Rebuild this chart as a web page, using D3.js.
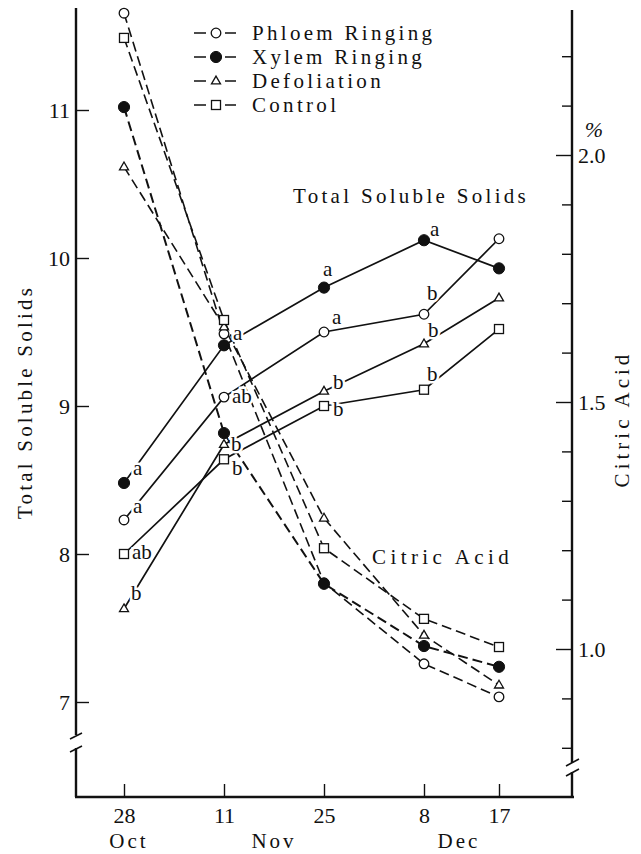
<!DOCTYPE html>
<html>
<head>
<meta charset="utf-8">
<script src="https://cdn.jsdelivr.net/npm/d3@7/dist/d3.min.js"></script>
<style>
  html, body { margin: 0; padding: 0; background: #fff; }
  svg { display: block; font-family: "Liberation Serif", "DejaVu Serif", serif; }
  svg text { font-family: "Liberation Serif", "DejaVu Serif", serif !important; fill: #111; }
</style>
</head>
<body>
<svg id="chart" width="641" height="854"></svg>
<script>
// ---------------- DATA ----------------
const dateDays   = ["28", "11", "25", "8", "17"];
const months     = ["Oct", "Nov", "Dec"];
const datePos    = [0, 2, 4, 6, 7.5];          // sampling positions along the time axis (plotted spacing)
const monthPos   = [0.1, 3.0, 6.7];

const seriesNames = ["Phloem Ringing", "Xylem Ringing", "Defoliation", "Control"];

// Total Soluble Solids (left axis)
const tssPhloem  = [8.23, 9.06, 9.50, 9.62, 10.13];
const tssXylem   = [8.48, 9.41, 9.80, 10.12, 9.93];
const tssDefol   = [7.63, 8.74, 9.10, 9.42, 9.73];
const tssControl = [8.00, 8.64, 9.00, 9.11, 9.52];

// Citric Acid % (right axis)
const caPhloem   = [2.287, 1.638, 1.134, 0.970, 0.903];
const caXylem    = [2.097, 1.437, 1.132, 1.006, 0.964];
const caDefol    = [1.976, 1.652, 1.265, 1.028, 0.927];
const caControl  = [2.237, 1.666, 1.204, 1.061, 1.004];

// significance letters for Total Soluble Solids
const sigPhloem  = ["a", "ab", "a", "b", ""];
const sigXylem   = ["a", "a", "a", "a", ""];
const sigDefol   = ["b", "b", "b", "b", ""];
const sigControl = ["ab", "b", "b", "b", ""];

const leftTicks  = [7, 8, 9, 10, 11];
const rightMajor = [1.0, 1.5, 2.0];
const rightMinor = [0.8, 0.9, 1.1, 1.2, 1.3, 1.4, 1.6, 1.7, 1.8, 1.9, 2.1, 2.2];

// ---------------- LAYOUT ----------------
const FONT = "'Liberation Serif', 'DejaVu Serif', serif";
const svg = d3.select("#chart");
const X0 = 76, X1 = 572, YB = 797, YT = 8;

const x  = d3.scaleLinear().domain([-0.96, 8.96]).range([X0, X1]);
const yL = d3.scaleLinear().domain([7, 11]).range([702, 110]);
const yR = d3.scaleLinear().domain([1.0, 2.0]).range([649, 155]);

const markers = ["openCircle", "filledCircle", "triangle", "square"];
const tss = [tssPhloem, tssXylem, tssDefol, tssControl];
const ca  = [caPhloem, caXylem, caDefol, caControl];
const sig = [sigPhloem, sigXylem, sigDefol, sigControl];

// label offsets (style): [dx, dy] per point
const sigOffsets = [
  [[9,-14],[8,-1],[8,-15],[3,-21],[0,0]],
  [[9,-15],[9,-12],[-1,-19],[6,-11],[0,0]],
  [[7,-16],[7,0],[9,-9],[4,-14],[0,0]],
  [[8,-2],[8,9],[9,3],[3,-16],[0,0]]
];

// ---------------- AXES ----------------
const axisG = svg.append("g");
const axStroke = 2.4;

// left axis line with break
axisG.append("path")
  .attr("d", `M${X0},${YT}V${735} M${X0},${748}V${YB}`)
  .attr("stroke", "#111").attr("stroke-width", axStroke).attr("fill", "none");
axisG.append("path")
  .attr("d", `M${X0-6},${739}L${X0+6},${733} M${X0-6},${752}L${X0+6},${746}`)
  .attr("stroke", "#111").attr("stroke-width", 1.6).attr("fill", "none");

// right axis line with break
axisG.append("path")
  .attr("d", `M${X1},${YT+2}V${763} M${X1},${772}V${YB}`)
  .attr("stroke", "#111").attr("stroke-width", axStroke).attr("fill", "none");
axisG.append("path")
  .attr("d", `M${X1-6},${766}L${X1+7},${759} M${X1-6},${776}L${X1+7},${769}`)
  .attr("stroke", "#111").attr("stroke-width", 1.6).attr("fill", "none");

// bottom axis line
axisG.append("path")
  .attr("d", `M${X0-1},${YB}H${X1+2}`)
  .attr("stroke", "#111").attr("stroke-width", axStroke).attr("fill", "none");

// left ticks
const gL = svg.append("g").attr("transform", `translate(${X0},0)`)
  .call(d3.axisLeft(yL).tickValues(leftTicks).tickSize(-13).tickPadding(6).tickFormat(d3.format("d")));
gL.attr("font-family", FONT);
gL.select(".domain").remove();
gL.selectAll(".tick line").attr("stroke", "#111").attr("stroke-width", 1.4);
gL.selectAll(".tick text").attr("font-size", 22).attr("fill", "#111");

// right ticks: minor
const gRm = svg.append("g").attr("transform", `translate(${X1},0)`)
  .call(d3.axisRight(yR).tickValues(rightMinor).tickSize(-10).tickFormat(""));
gRm.select(".domain").remove();
gRm.selectAll(".tick line").attr("stroke", "#111").attr("stroke-width", 1.4);

// right ticks: major
const gR = svg.append("g").attr("transform", `translate(${X1},0)`)
  .call(d3.axisRight(yR).tickValues(rightMajor).tickSize(-16).tickPadding(6).tickFormat(d3.format(".1f")));
gR.attr("font-family", FONT);
gR.select(".domain").remove();
gR.selectAll(".tick line").attr("stroke", "#111").attr("stroke-width", 1.4);
gR.selectAll(".tick text").attr("font-size", 22).attr("fill", "#111");

// percent sign
svg.append("text").attr("x", X1 + 22).attr("y", yR(2.0) - 26)
  .attr("text-anchor", "middle").attr("dominant-baseline", "central")
  .attr("font-size", 22).attr("font-style", "italic").text("%");

// bottom ticks
const gB = svg.append("g").attr("transform", `translate(0,${YB})`)
  .call(d3.axisBottom(x).tickValues(datePos).tickSize(-13).tickPadding(10)
    .tickFormat((d, i) => dateDays[i]));
gB.attr("font-family", FONT);
gB.select(".domain").remove();
gB.selectAll(".tick line").attr("stroke", "#111").attr("stroke-width", 1.4);
gB.selectAll(".tick text").attr("font-size", 22).attr("fill", "#111");

// month labels
svg.append("g").selectAll("text").data(months).join("text")
  .attr("x", (d, i) => x(monthPos[i]))
  .attr("y", 841)
  .attr("text-anchor", "middle").attr("dominant-baseline", "central")
  .attr("font-size", 21).attr("letter-spacing", 3)
  .text(d => d);

// axis titles
svg.append("text")
  .attr("transform", `translate(25,402) rotate(-90)`)
  .attr("text-anchor", "middle").attr("dominant-baseline", "central")
  .attr("font-size", 21).attr("letter-spacing", 3.2)
  .text("Total Soluble Solids");
svg.append("text")
  .attr("transform", `translate(622,419) rotate(-90)`)
  .attr("text-anchor", "middle").attr("dominant-baseline", "central")
  .attr("font-size", 21).attr("letter-spacing", 4)
  .text("Citric Acid");

// in-plot annotations
svg.append("text").attr("x", 293).attr("y", 196)
  .attr("dominant-baseline", "central")
  .attr("font-size", 21).attr("letter-spacing", 3.3)
  .text("Total Soluble Solids");
svg.append("text").attr("x", 372).attr("y", 557)
  .attr("dominant-baseline", "central")
  .attr("font-size", 21).attr("letter-spacing", 4.4)
  .text("Citric Acid");

// ---------------- MARKERS ----------------
function drawMarker(g, type, cx, cy) {
  if (type === "openCircle") {
    g.append("circle").attr("cx", cx).attr("cy", cy).attr("r", 4.8)
      .attr("fill", "#fff").attr("stroke", "#111").attr("stroke-width", 1.3);
  } else if (type === "filledCircle") {
    g.append("circle").attr("cx", cx).attr("cy", cy).attr("r", 5.6)
      .attr("fill", "#111").attr("stroke", "#111").attr("stroke-width", 1);
  } else if (type === "triangle") {
    const s = 9;
    const h = s * Math.sqrt(3) / 2;
    g.append("path")
      .attr("d", `M${cx},${cy - h*0.62}L${cx + s/2},${cy + h*0.38}L${cx - s/2},${cy + h*0.38}Z`)
      .attr("fill", "#fff").attr("stroke", "#111").attr("stroke-width", 1.3);
  } else {
    g.append("rect").attr("x", cx - 4.5).attr("y", cy - 4.5).attr("width", 9).attr("height", 9)
      .attr("fill", "#fff").attr("stroke", "#111").attr("stroke-width", 1.3);
  }
}

// ---------------- LINES ----------------
const linesG = svg.append("g");
const lineL = d3.line().x((d, i) => x(datePos[i])).y(d => yL(d));
const lineR = d3.line().x((d, i) => x(datePos[i])).y(d => yR(d));

ca.forEach((vals, s) => {
  linesG.append("path").attr("d", lineR(vals))
    .attr("fill", "none").attr("stroke", "#111")
    .attr("stroke-width", s === 1 ? 2.0 : 1.6)
    .attr("stroke-dasharray", "10,5");
});
tss.forEach((vals) => {
  linesG.append("path").attr("d", lineL(vals))
    .attr("fill", "none").attr("stroke", "#111").attr("stroke-width", 1.7);
});

// significance letters with white halo (breaks lines like the original)
const sigG = svg.append("g");
sig.forEach((letters, s) => {
  letters.forEach((t, i) => {
    if (!t) return;
    sigG.append("text")
      .attr("x", x(datePos[i]) + sigOffsets[s][i][0])
      .attr("y", yL(tss[s][i]) + sigOffsets[s][i][1])
      .attr("dominant-baseline", "central")
      .attr("font-size", 21)
      .attr("stroke", "#fff").attr("stroke-width", 5)
      .attr("paint-order", "stroke")
      .text(t);
  });
});

const markG = svg.append("g");
tss.forEach((vals, s) => vals.forEach((v, i) => drawMarker(markG, markers[s], x(datePos[i]), yL(v))));
ca.forEach((vals, s) => vals.forEach((v, i) => drawMarker(markG, markers[s], x(datePos[i]), yR(v))));

// ---------------- LEGEND ----------------
const legG = svg.append("g");
seriesNames.forEach((name, s) => {
  const cy = 33 + s * 24;
  legG.append("path").attr("d", `M194,${cy}H206 M225,${cy}H236`)
    .attr("stroke", "#111").attr("stroke-width", 1.5);
  drawMarker(legG, markers[s], 216, cy);
  legG.append("text").attr("x", 252).attr("y", cy)
    .attr("dominant-baseline", "central")
    .attr("font-size", 21).attr("letter-spacing", 3.3)
    .text(name);
});
</script>
</body>
</html>
